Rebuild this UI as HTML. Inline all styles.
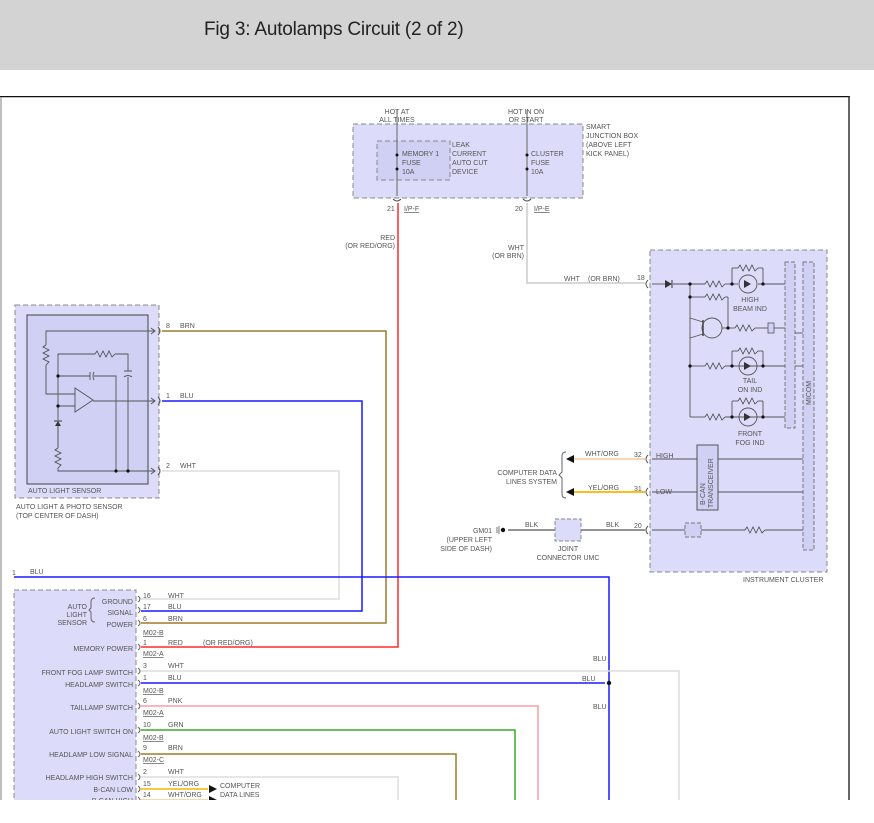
<!DOCTYPE html>
<html><head><meta charset="utf-8"><style>
html,body{margin:0;padding:0;background:#fff;}
body{width:874px;height:823px;overflow:hidden;position:relative;font-family:"Liberation Sans",sans-serif;}
.hdr{position:absolute;left:0;top:0;width:874px;height:70px;background:#d3d3d3;}
.hdr span{position:absolute;left:204px;top:19px;font-size:19px;color:#222;letter-spacing:-0.2px;}
svg{position:absolute;left:0;top:0;}
text{font-family:"Liberation Sans",sans-serif;font-size:7px;fill:#555;}
</style></head><body>
<div class="hdr"><span>Fig 3: Autolamps Circuit (2 of 2)</span></div>
<svg width="874" height="823" viewBox="0 0 874 823">
<defs>
<clipPath id="c"><rect x="0" y="96" width="874" height="704"/></clipPath>
<symbol id="res" viewBox="0 0 20 6" width="20" height="6" overflow="visible"><polyline points="0,3 2,0 5,6 8,0 11,6 14,0 17,6 20,3" fill="none" stroke="#444" stroke-width="0.8"/></symbol>
<symbol id="resv" viewBox="0 0 6 20" width="6" height="20" overflow="visible"><polyline points="3,0 0,2 6,5 0,8 6,11 0,14 6,17 3,20" fill="none" stroke="#444" stroke-width="0.8"/></symbol>
</defs>
<g clip-path="url(#c)">
<!-- frame -->
<line x1="0" y1="96.5" x2="850" y2="96.5" stroke="#111" stroke-width="1.5"/>
<line x1="849" y1="96" x2="849" y2="800" stroke="#333" stroke-width="1.5"/>
<line x1="1" y1="97" x2="1" y2="800" stroke="#aaa" stroke-width="1.5"/>

<!-- smart junction box -->
<rect x="353" y="124" width="230" height="74" fill="#dcdcfa" stroke="#888" stroke-dasharray="5,3"/>
<rect x="377" y="141" width="73" height="39" fill="#d0d0f5" stroke="#888" stroke-dasharray="5,3"/>
<line x1="397" y1="110" x2="397" y2="196" stroke="#666"/>
<line x1="527" y1="110" x2="527" y2="196" stroke="#666"/>
<circle cx="397" cy="155" r="1.5" fill="#111"/><circle cx="397" cy="169" r="1.5" fill="#111"/>
<circle cx="527" cy="155" r="1.5" fill="#111"/><circle cx="527" cy="169" r="1.5" fill="#111"/>
<path d="M393,199 q4,4 8,0 M523,199 q4,4 8,0" fill="none" stroke="#555"/>
<text x="397" y="114" text-anchor="middle">HOT AT</text><text x="397" y="122" text-anchor="middle">ALL TIMES</text>
<text x="526" y="114" text-anchor="middle">HOT IN ON</text><text x="526" y="122" text-anchor="middle">OR START</text>
<text x="402" y="156">MEMORY 1</text><text x="402" y="165">FUSE</text><text x="402" y="174">10A</text>
<text x="452" y="147">LEAK</text><text x="452" y="156">CURRENT</text><text x="452" y="165">AUTO CUT</text><text x="452" y="174">DEVICE</text>
<text x="531" y="156">CLUSTER</text><text x="531" y="165">FUSE</text><text x="531" y="174">10A</text>
<text x="586" y="129">SMART</text><text x="586" y="138">JUNCTION BOX</text><text x="586" y="147">(ABOVE LEFT</text><text x="586" y="156">KICK PANEL)</text>
<text x="387" y="211">21</text><text x="404" y="211" text-decoration="underline" fill="#3a7ab0">I/P-F</text>
<text x="515" y="211">20</text><text x="534" y="211" text-decoration="underline" fill="#3a7ab0">I/P-E</text>
<text x="395" y="240" text-anchor="end">RED</text><text x="395" y="248" text-anchor="end">(OR RED/ORG)</text>
<text x="524" y="250" text-anchor="end">WHT</text><text x="524" y="258" text-anchor="end">(OR BRN)</text>

<!-- instrument cluster -->
<rect x="650" y="250" width="177" height="322" fill="#dcdcfa" stroke="#888" stroke-dasharray="5,3"/>
<rect x="785" y="262" width="10" height="166" fill="#d0d0f5" stroke="#777" stroke-dasharray="4,2"/>
<rect x="803" y="262" width="11" height="288" fill="#d0d0f5" stroke="#777" stroke-dasharray="4,2"/>
<text x="811" y="405" transform="rotate(-90 811 405)" font-size="7">MICOM</text>
<g stroke="#555" stroke-width="0.9" fill="none">
<line x1="652" y1="284" x2="665" y2="284"/><line x1="673" y1="284" x2="705" y2="284"/><line x1="725" y1="284" x2="738" y2="284"/><line x1="758" y1="284" x2="785" y2="284"/>
<line x1="732" y1="284" x2="732" y2="268"/><line x1="732" y1="268" x2="738" y2="268"/><line x1="758" y1="268" x2="763" y2="268"/><line x1="763" y1="268" x2="763" y2="284"/>
<line x1="690" y1="284" x2="690" y2="417"/>
<line x1="690" y1="297" x2="705" y2="297"/><line x1="725" y1="297" x2="728" y2="297"/><line x1="728" y1="297" x2="728" y2="328"/>
<line x1="722" y1="328" x2="735" y2="328"/><line x1="755" y1="328" x2="768" y2="328"/><line x1="774" y1="328" x2="785" y2="328"/>
<line x1="690" y1="318" x2="703" y2="322"/><line x1="690" y1="338" x2="703" y2="334"/>
<line x1="795" y1="333" x2="803" y2="333"/><line x1="795" y1="366" x2="803" y2="366"/>
<line x1="690" y1="366" x2="705" y2="366"/><line x1="725" y1="366" x2="785" y2="366"/>
<line x1="732" y1="366" x2="732" y2="351"/><line x1="732" y1="351" x2="738" y2="351"/><line x1="758" y1="351" x2="763" y2="351"/><line x1="763" y1="351" x2="763" y2="366"/>
<line x1="690" y1="417" x2="705" y2="417"/><line x1="725" y1="417" x2="785" y2="417"/>
<line x1="732" y1="417" x2="732" y2="401"/><line x1="732" y1="401" x2="738" y2="401"/><line x1="758" y1="401" x2="763" y2="401"/><line x1="763" y1="401" x2="763" y2="417"/>
<line x1="652" y1="459" x2="803" y2="459"/><line x1="652" y1="492" x2="803" y2="492"/>
<line x1="652" y1="530" x2="685" y2="530"/><line x1="701" y1="530" x2="745" y2="530"/><line x1="765" y1="530" x2="803" y2="530"/>
<circle cx="712" cy="328" r="10"/><circle cx="748" cy="284" r="9"/><circle cx="748" cy="366" r="9"/><circle cx="748" cy="417" r="9"/>
</g>
<rect x="768" y="323" width="6" height="10" fill="#d0d0f5" stroke="#555" stroke-width="0.8"/>
<line x1="703" y1="320" x2="703" y2="336" stroke="#444" stroke-width="1.5"/>
<polygon points="665,280 665,288 672,284" fill="#333"/><line x1="672" y1="280" x2="672" y2="288" stroke="#333"/>
<g fill="#333"><polygon points="744,280 744,288 751,284"/><polygon points="744,362 744,370 751,366"/><polygon points="744,413 744,421 751,417"/></g>
<use href="#res" x="705" y="281"/><use href="#res" x="738" y="265"/><use href="#res" x="705" y="294"/><use href="#res" x="735" y="325"/>
<use href="#res" x="705" y="363"/><use href="#res" x="738" y="348"/><use href="#res" x="705" y="414"/><use href="#res" x="738" y="398"/><use href="#res" x="745" y="527"/>
<g fill="#111"><circle cx="690" cy="284" r="1.6"/><circle cx="690" cy="297" r="1.6"/><circle cx="732" cy="284" r="1.6"/><circle cx="763" cy="284" r="1.6"/><circle cx="728" cy="328" r="1.6"/><circle cx="690" cy="366" r="1.6"/><circle cx="732" cy="366" r="1.6"/><circle cx="763" cy="366" r="1.6"/><circle cx="732" cy="417" r="1.6"/><circle cx="763" cy="417" r="1.6"/></g>
<rect x="697" y="445" width="21" height="65" fill="#d0d0f5" stroke="#555"/>
<text x="705" y="505" transform="rotate(-90 705 505)" font-size="6.5">B-CAN</text>
<text x="713" y="508" transform="rotate(-90 713 508)" font-size="6.5">TRANSCEIVER</text>
<rect x="685" y="523" width="16" height="14" fill="#d0d0f5" stroke="#777" stroke-dasharray="4,2"/>
<text x="750" y="302" text-anchor="middle">HIGH</text><text x="750" y="311" text-anchor="middle">BEAM IND</text>
<text x="750" y="383" text-anchor="middle">TAIL</text><text x="750" y="392" text-anchor="middle">ON IND</text>
<text x="750" y="436" text-anchor="middle">FRONT</text><text x="750" y="445" text-anchor="middle">FOG IND</text>
<text x="656" y="458" fill="#557">HIGH</text><text x="656" y="494" fill="#557">LOW</text>
<text x="743" y="582">INSTRUMENT CLUSTER</text>
<path d="M648,280 q-4,4 0,8 M648,455 q-4,4 0,8 M648,488 q-4,4 0,8 M648,526 q-4,4 0,8" fill="none" stroke="#555"/>
<text x="637" y="280">18</text><text x="634" y="457">32</text><text x="634" y="491">31</text><text x="634" y="528">20</text>

<!-- wires to cluster -->
<polyline points="527,203 527,283 645,283" fill="none" stroke="#ccc" stroke-width="1.5"/>
<text x="564" y="281">WHT</text><text x="588" y="281">(OR BRN)</text>
<line x1="572" y1="459" x2="645" y2="459" stroke="#f5c89a" stroke-width="1.5"/>
<line x1="572" y1="492" x2="645" y2="492" stroke="#f5b800" stroke-width="1.8"/>
<polygon points="566,459 574,455 574,463" fill="#111"/><polygon points="566,492 574,488 574,496" fill="#111"/>
<text x="585" y="456">WHT/ORG</text><text x="588" y="490">YEL/ORG</text>
<path d="M566,452 q-4,0 -4,4 v16 l-3,3 l3,3 v16 q0,4 4,4" fill="none" stroke="#666"/>
<text x="557" y="475" text-anchor="end">COMPUTER DATA</text><text x="557" y="484" text-anchor="end">LINES SYSTEM</text>
<line x1="508" y1="530" x2="645" y2="530" stroke="#555" stroke-width="1.2"/>
<circle cx="503" cy="530" r="2.2" fill="#111"/><path d="M499,526 v8 M497,527 v6" stroke="#777"/>
<rect x="555" y="519" width="26" height="22" fill="#dcdcfa" stroke="#888" stroke-dasharray="4,2"/>
<text x="525" y="527">BLK</text><text x="606" y="527">BLK</text>
<text x="568" y="551" text-anchor="middle">JOINT</text><text x="568" y="560" text-anchor="middle">CONNECTOR UMC</text>
<text x="492" y="533" text-anchor="end">GM01</text><text x="492" y="542" text-anchor="end">(UPPER LEFT</text><text x="492" y="551" text-anchor="end">SIDE OF DASH)</text>

<!-- auto light sensor -->
<rect x="15" y="305" width="144" height="193" fill="#dcdcfa" stroke="#888" stroke-dasharray="5,3"/>
<rect x="27" y="315" width="121" height="169" fill="#d0d0f5" stroke="#444"/>
<g stroke="#555" stroke-width="0.9" fill="none">
<polyline points="155,331 46,331 46,345"/><polyline points="46,365 46,394 75,394"/>
<polyline points="58,395 58,354 95,354"/><polyline points="115,354 128,354 128,371"/><polyline points="128,377 128,471"/>
<polyline points="58,376 90,376"/><polyline points="94,376 116,376 116,471"/>
<polyline points="58,406 75,406"/><polygon points="75,388 75,412 93,400"/><line x1="93" y1="401" x2="155" y2="401"/>
<line x1="58" y1="395" x2="58" y2="420"/><polyline points="58,468 58,471 155,471"/>
<line x1="90" y1="372" x2="90" y2="380"/><path d="M94,372 q-2,4 0,8"/><path d="M124,371 h8 M124,377 q4,-3 8,0"/>
</g>
<use href="#resv" x="43" y="345"/><use href="#resv" x="55" y="448"/><use href="#res" x="95" y="351"/>
<polygon points="55,426 61,426 58,421" fill="#333"/><line x1="54" y1="421" x2="62" y2="421" stroke="#333"/><line x1="58" y1="426" x2="58" y2="448" stroke="#555"/>
<g fill="#111"><circle cx="58" cy="376" r="1.6"/><circle cx="58" cy="406" r="1.6"/><circle cx="116" cy="471" r="1.6"/><circle cx="128" cy="471" r="1.6"/></g>
<path d="M151,328 l4,3 l-4,3 M151,398 l4,3 l-4,3 M151,468 l4,3 l-4,3 M158,327 q4,4 0,8 M158,397 q4,4 0,8 M158,467 q4,4 0,8" fill="none" stroke="#555"/>
<text x="28" y="493">AUTO LIGHT SENSOR</text>
<text x="16" y="509">AUTO LIGHT &amp; PHOTO SENSOR</text><text x="16" y="518">(TOP CENTER OF DASH)</text>
<text x="166" y="328">8</text><text x="180" y="328">BRN</text>
<text x="166" y="398">1</text><text x="180" y="398">BLU</text>
<text x="166" y="468">2</text><text x="180" y="468">WHT</text>

<!-- bottom-left module -->
<rect x="14" y="590" width="122" height="230" fill="#dcdcfa" stroke="#888" stroke-dasharray="5,3"/>

<!-- long wires -->
<polyline points="162,471 339,471 339,599 141,599" fill="none" stroke="#ddd" stroke-width="1.5"/>
<polyline points="162,401 362,401 362,611 141,611" fill="none" stroke="#1a1aff" stroke-width="1.5"/>
<polyline points="162,331 386,331 386,623 141,623" fill="none" stroke="#9b7a2a" stroke-width="1.5"/>
<polyline points="398,203 398,647 141,647" fill="none" stroke="#ff2a2a" stroke-width="1.5"/>
<polyline points="14,577 609,577 609,800" fill="none" stroke="#1a1aff" stroke-width="1.5"/>
<polyline points="141,671 679,671 679,800" fill="none" stroke="#ddd" stroke-width="1.5"/>
<line x1="141" y1="683" x2="605" y2="683" stroke="#1a1aff" stroke-width="1.5"/>
<circle cx="609" cy="683" r="2.2" fill="#111"/>
<polyline points="141,706 538,706 538,800" fill="none" stroke="#ff99aa" stroke-width="1.5"/>
<polyline points="141,730 515,730 515,800" fill="none" stroke="#3aaa2a" stroke-width="1.5"/>
<polyline points="141,754 456,754 456,800" fill="none" stroke="#9b7a2a" stroke-width="1.5"/>
<polyline points="141,777 398,777 398,800" fill="none" stroke="#ddd" stroke-width="1.5"/>
<line x1="141" y1="789" x2="208" y2="789" stroke="#f5b800" stroke-width="1.5"/>
<line x1="141" y1="800" x2="208" y2="800" stroke="#f5c89a" stroke-width="1.5"/>
<polygon points="217,789 209,785 209,793" fill="#111"/><polygon points="217,800 209,796 209,804" fill="#111"/>
<text x="12" y="575">1</text><text x="30" y="574">BLU</text>
<text x="593" y="661">BLU</text><text x="582" y="681">BLU</text><text x="593" y="709">BLU</text>
<text x="220" y="788">COMPUTER</text><text x="220" y="797">DATA LINES</text>

<path d="M138,596 q4,3 0,6 M138,607 q4,3 0,6 M138,620 q4,3 0,6 M138,644 q4,3 0,6 M138,668 q4,3 0,6 M138,680 q4,3 0,6 M138,703 q4,3 0,6 M138,727 q4,3 0,6 M138,751 q4,3 0,6 M138,774 q4,3 0,6 M138,786 q4,3 0,6 M138,797 q4,3 0,6" fill="none" stroke="#666"/>
<path d="M95,598 q-4,0 -4,4 v6 l-2,2 l2,2 v6 q0,4 4,4" fill="none" stroke="#666"/>
<g text-anchor="end">
<text x="133" y="604">GROUND</text><text x="133" y="615">SIGNAL</text><text x="133" y="627">POWER</text>
<text x="87" y="609">AUTO</text><text x="87" y="617">LIGHT</text><text x="87" y="625">SENSOR</text>
<text x="133" y="651">MEMORY POWER</text><text x="133" y="675">FRONT FOG LAMP SWITCH</text><text x="133" y="687">HEADLAMP SWITCH</text>
<text x="133" y="710">TAILLAMP SWITCH</text><text x="133" y="734">AUTO LIGHT SWITCH ON</text><text x="133" y="757">HEADLAMP LOW SIGNAL</text>
<text x="133" y="780">HEADLAMP HIGH SWITCH</text><text x="133" y="792">B-CAN LOW</text><text x="133" y="803">B-CAN HIGH</text>
</g>
<text x="143" y="598">16</text><text x="168" y="598">WHT</text>
<text x="143" y="609">17</text><text x="168" y="609">BLU</text>
<text x="143" y="621">6</text><text x="168" y="621">BRN</text>
<text x="143" y="635" text-decoration="underline">M02-B</text>
<text x="143" y="645">1</text><text x="168" y="645">RED</text><text x="203" y="645">(OR RED/ORG)</text>
<text x="143" y="656" text-decoration="underline">M02-A</text>
<text x="143" y="668">3</text><text x="168" y="668">WHT</text>
<text x="143" y="680">1</text><text x="168" y="680">BLU</text>
<text x="143" y="693" text-decoration="underline">M02-B</text>
<text x="143" y="703">6</text><text x="168" y="703">PNK</text>
<text x="143" y="715" text-decoration="underline">M02-A</text>
<text x="143" y="727">10</text><text x="168" y="727">GRN</text>
<text x="143" y="740" text-decoration="underline">M02-B</text>
<text x="143" y="750">9</text><text x="168" y="750">BRN</text>
<text x="143" y="762" text-decoration="underline">M02-C</text>
<text x="143" y="774">2</text><text x="168" y="774">WHT</text>
<text x="143" y="786">15</text><text x="168" y="786">YEL/ORG</text>
<text x="143" y="797">14</text><text x="168" y="797">WHT/ORG</text>
</g>
</svg>
</body></html>
